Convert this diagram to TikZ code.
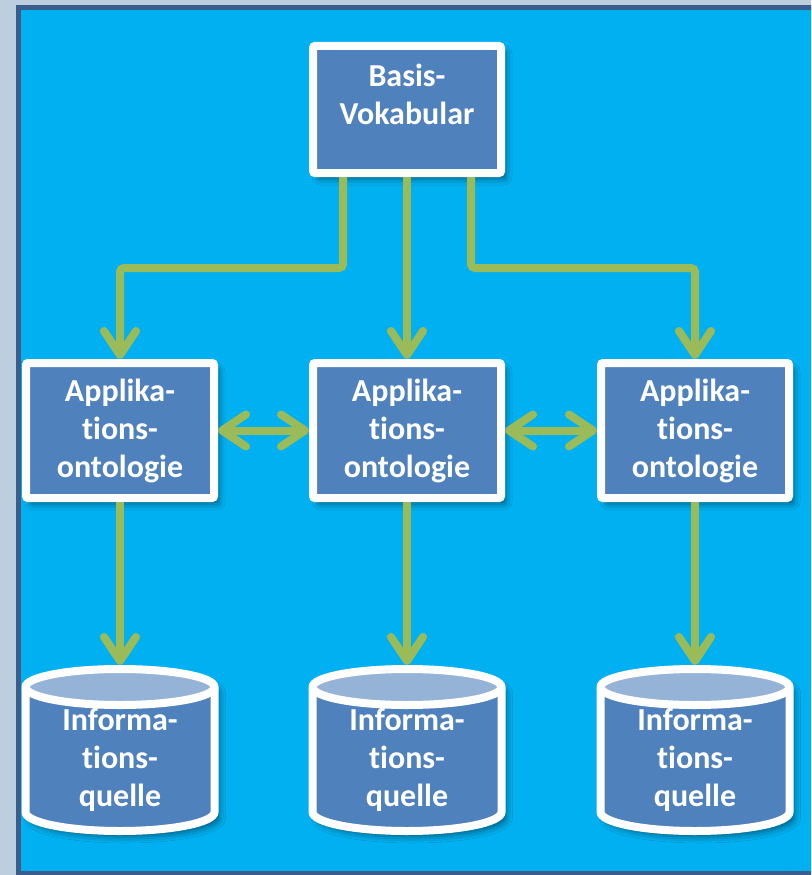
\documentclass[tikz,border=0pt]{standalone}
\usepackage{fontspec}
\setmainfont{Carlito}[Ligatures=NoCommon]
\usetikzlibrary{arrows.meta,shadows.blur,calc}
\definecolor{pagebg}{RGB}{189,207,222}
\definecolor{frameline}{RGB}{58,93,140}
\definecolor{panel}{RGB}{0,176,240}
\definecolor{boxfill}{RGB}{79,129,189}
\definecolor{capfill}{RGB}{149,179,215}
\definecolor{linkgreen}{RGB}{155,187,89}
\definecolor{shade}{RGB}{0,60,110}

% cylinder-shaped data store: #1 node name, #2 centre x
\newcommand\datastore[2]{%
  \node[cylspace] (#1) at (#2,750) {};
  \path[fill=boxfill, softshadow]
    (#2-94.5,687) -- (#2-94.5,812)
    arc[start angle=180, end angle=0, x radius=94.5, y radius=19]
    -- (#2+94.5,687)
    arc[start angle=0, end angle=-180, x radius=94.5, y radius=18] -- cycle;
  \fill[capfill] (#2,687) ellipse[x radius=94.5, y radius=18];
  \draw[white, line width=8pt]
    (#2-94.5,687) -- (#2-94.5,812)
    arc[start angle=180, end angle=0, x radius=94.5, y radius=19]
    -- (#2+94.5,687)
    arc[start angle=0, end angle=-180, x radius=94.5, y radius=18] -- cycle;
  \draw[white, line width=8pt]
    (#2-94.5,687) arc[start angle=180, end angle=0, x radius=94.5, y radius=18];
  \node[lbl] (#1t) at (#2,760) {Informa-\\tions-\\quelle};
}

\begin{document}
\begin{tikzpicture}[x=1pt, y=-1pt,
  softshadow/.style={blur shadow={shadow xshift=5pt, shadow yshift=-6pt,
      shadow blur radius=6pt, shadow opacity=45}},
  lbl/.style={text=white, font=\bfseries\fontsize{32}{38}\selectfont,
      align=center, inner sep=0pt},
  box/.style={lbl, draw=white, line width=8pt, fill=boxfill, rounded corners=2pt,
      minimum width=188pt, minimum height=135pt, softshadow},
  cylspace/.style={minimum width=197pt, minimum height=170pt, inner sep=0pt, outer sep=0pt},
  link/.style={draw=linkgreen, line width=8pt, rounded corners=4pt, line cap=butt,
      preaction={draw=shade, draw opacity=0.3, transform canvas={shift={(2pt,-2.5pt)}}}},
  barb/.tip={Straight Barb[length=24pt, width=32pt, round]},
  tipend/.style={-barb},
  tipboth/.style={barb-barb}]

\useasboundingbox (0,0) rectangle (811,875);
\clip (0,0) rectangle (811,875);

% page and panel
\fill[pagebg] (0,0) rectangle (811,875);
\draw[frameline, line width=5pt, fill=panel] (18.5,7.5) rectangle (830,873.5);

% boxes
\node[box, minimum height=127pt] (b) at (407,109.5) {};
\node[lbl] (bt) at (407,94) {Basis-\\Vokabular};

\node[box] (a1) at (120,430.5) {Applika-\\tions-\\ontologie};
\node[box] (a2) at (407,430.5) {Applika-\\tions-\\ontologie};
\node[box] (a3) at (695,430.5) {Applika-\\tions-\\ontologie};

% data stores
\datastore{c1}{120}
\datastore{c2}{407}
\datastore{c3}{695}

% connectors
\draw[link, tipend] ($(b.south)+(-64,0)$) -- ++(0,91) -| (a1.north);
\draw[link, tipend] (b.south) -- (a2.north);
\draw[link, tipend] ($(b.south)+(64,0)$) -- ++(0,91) -| (a3.north);

\draw[link, tipboth] (a1.east) -- (a2.west);
\draw[link, tipboth] (a2.east) -- (a3.west);

\draw[link, tipend] (a1.south) -- (c1.north);
\draw[link, tipend] (a2.south) -- (c2.north);
\draw[link, tipend] (a3.south) -- (c3.north);
\end{tikzpicture}
\end{document}
